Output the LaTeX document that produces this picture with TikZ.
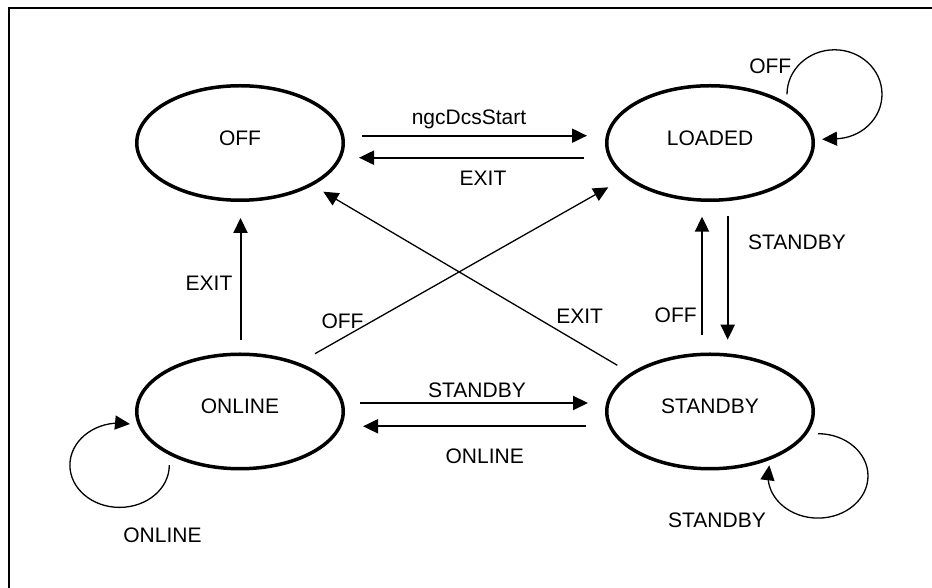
\documentclass[tikz,border=0pt]{standalone}
\usepackage{fontspec}
\setmainfont{Liberation Sans}
\usetikzlibrary{shapes.geometric,arrows.meta}
\begin{document}
\begin{tikzpicture}[x=1pt,y=1pt,
  font=\fontsize{21}{25}\selectfont,
  state/.style={ellipse, draw, line width=3.5pt, minimum width=206.5pt,
    minimum height=114.5pt, inner sep=0pt, text height=15pt, text depth=10pt},
  tip/.style={-{Triangle[length=15pt,width=14pt]}},
  heavy/.style={tip, line width=2pt},
  light/.style={tip, line width=1.3pt},
  lbl/.style={anchor=base, inner sep=0pt}]
\useasboundingbox (0,0) rectangle (932,588);
\clip (0,0) rectangle (932,588);
% frame
\draw[line width=2pt] (9,-20) rectangle (960,579.5);

% states
\node[state] (off)     at (240,445)   {OFF};
\node[state] (loaded)  at (710,445)   {LOADED};
\node[state] (online)  at (240,176.5) {ONLINE};
\node[state] (standby) at (710,176.5) {STANDBY};

% OFF <-> LOADED
\draw[heavy] ([shift={(17,7.3)}]off.east) -- ([shift={(-18,7.3)}]loaded.west);
\draw[heavy] ([shift={(-21,-14.7)}]loaded.west) -- ([shift={(14,-14.7)}]off.east);
\node[lbl] (lngc) at (469,463) {ngcDcsStart};
\node[lbl] (lexit1) at (483,402.5) {EXIT};

% ONLINE <-> STANDBY
\draw[heavy] ([shift={(15,8.5)}]online.east) -- ([shift={(-17,8.5)}]standby.west);
\draw[heavy] ([shift={(-19,-14.8)}]standby.west) -- ([shift={(18,-14.8)}]online.east);
\node[lbl] (lsb1) at (477,190.8) {STANDBY};
\node[lbl] (lon1) at (484.7,124.8) {ONLINE};

% LOADED <-> STANDBY
\draw[heavy] ([shift={(-8,17.8)}]standby.north) -- ([shift={(-8,-14.7)}]loaded.south);
\draw[heavy] ([shift={(17.7,-14)}]loaded.south) -- ([shift={(17.7,12.8)}]standby.north);
\node[lbl] (lsb2) at (797,338.8) {STANDBY};
\node[lbl] (loff1) at (675.7,265.8) {OFF};

% ONLINE -> OFF
\draw[heavy] ([shift={(0.5,12.5)}]online.north) -- ([shift={(0.5,-16)}]off.south);
\node[lbl] (lexit2) at (209,297.5) {EXIT};

% diagonals
\draw[light] ([shift={(75,57.8)}]online.center) -- ([shift={(-101.7,-44.3)}]loaded.center);
\node[lbl] (loff2) at (342.5,259.8) {OFF};
\draw[light] ([shift={(-92.7,46.2)}]standby.center) -- ([shift={(83.3,-48.7)}]off.center);
\node[lbl] (lexit3) at (579.7,264.2) {EXIT};

% self loops
\draw[light] ([shift={(77,48.7)}]loaded.center)
  arc[start angle=180, end angle=-90, x radius=47.5, y radius=44.5]
  -- ([shift={(7,3.7)}]loaded.east);
\node[lbl] (loff3) at (770.3,514.8) {OFF};

\draw[light] ([shift={(-70.7,-53.7)}]online.center)
  arc[start angle=0, end angle=-270, x radius=49.7, y radius=42.2]
  -- ([shift={(-5,-12.5)}]online.west);
\node[lbl] (lon2) at (162.5,45.2) {ONLINE};

\draw[light] ([shift={(3,-22.2)}]standby.east)
  arc[start angle=90, end angle=-180, x radius=50, y radius=42.2]
  -- ([shift={(59.3,-53.8)}]standby.center);
\node[lbl] (lsb3) at (717,60.2) {STANDBY};
\end{tikzpicture}
\end{document}
